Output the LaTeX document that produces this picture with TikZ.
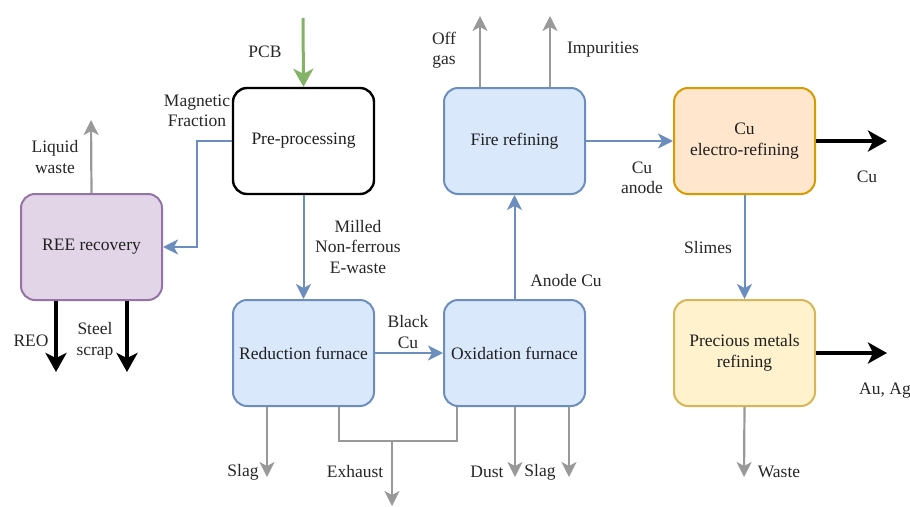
\documentclass[tikz,border=0pt]{standalone}
\usepackage{fontspec}
\setmainfont{Liberation Serif}
\usetikzlibrary{arrows.meta}
\definecolor{bluefill}{HTML}{DAE8FC}
\definecolor{blueline}{HTML}{6C8EBF}
\definecolor{purpfill}{HTML}{E1D5E7}
\definecolor{purpline}{HTML}{9673A6}
\definecolor{orfill}{HTML}{FFE6CC}
\definecolor{orline}{HTML}{D79B00}
\definecolor{yelfill}{HTML}{FFF2CC}
\definecolor{yelline}{HTML}{D6B656}
\definecolor{greenline}{HTML}{82B366}
\definecolor{grayline}{HTML}{999999}
\begin{document}
\begin{tikzpicture}[x=1pt,y=-1pt,
  font=\fontsize{17.5}{20.5}\selectfont,
  box/.style={rounded corners=14pt, minimum width=141pt, minimum height=106pt, line width=2pt, align=center, inner sep=2pt, text=black!88},
  bluebox/.style={box, draw=blueline, fill=bluefill},
  lbl/.style={align=center, inner sep=0pt, text=black!85},
  flow/.style={draw=blueline, line width=2pt, -{Stealth[length=15pt, width=15pt, inset=4pt]}},
  waste/.style={draw=grayline, line width=2.2pt, -{Stealth[length=15pt, width=15pt, inset=4pt]}},
  product/.style={draw=black, line width=4pt, -{Stealth[length=19pt, width=21pt, inset=5pt]}},
  feed/.style={draw=greenline, line width=3pt, -{Stealth[length=18pt, width=20pt, inset=5pt]}}]
\useasboundingbox (0,0) rectangle (910,506);

% process units
\node[box, draw=black, fill=white, line width=2.4pt] (pre) at (303.5,141) {Pre-processing};
\node[box, draw=purpline, fill=purpfill] (ree) at (91.5,247) {REE recovery};
\node[bluebox] (fire) at (514.5,141) {Fire refining};
\node[box, draw=orline, fill=orfill] (cuer) at (744.5,141) {Cu\\electro-refining};
\node[bluebox] (red) at (303.5,353) {Reduction furnace};
\node[bluebox] (oxi) at (514.5,353) {Oxidation furnace};
\node[box, draw=yelline, fill=yelfill] (pmr) at (744.5,353) {Precious metals\\refining};

% free ends of the streams
\coordinate (pcbin) at (303,18);
\coordinate (liq) at (91,120);
\coordinate (reo) at (56,372);
\coordinate (steel) at (127,372);
\coordinate (offg) at (480,16);
\coordinate (imp) at (550,16);
\coordinate (cuout) at (887,141);
\coordinate (auag) at (887,353);
\coordinate (wst) at (744,477);
\coordinate (slag1) at (267,477);
\coordinate (exh) at (392,506);
\coordinate (dust) at (515,477);
\coordinate (slag2) at (569,477);

% main copper route
\draw[feed] (pcbin) -- (pre.north);
\draw[flow] (pre.west) -- ++(-35,0) |- (ree.east);
\draw[flow] (pre.south) -- (red.north);
\draw[flow] (red.east) -- (oxi.west);
\draw[flow] (oxi.north) -- (fire.south);
\draw[flow] (fire.east) -- (cuer.west);
\draw[flow] (cuer.south) -- (pmr.north);

% products
\draw[product] (ree.south -| reo) -- (reo);
\draw[product] (ree.south -| steel) -- (steel);
\draw[product] (cuer.east) -- (cuout);
\draw[product] (pmr.east) -- (auag);

% residues and emissions
\draw[waste] (ree.north) -- (liq);
\draw[waste] (fire.north -| offg) -- (offg);
\draw[waste] (fire.north -| imp) -- (imp);
\draw[waste] (pmr.south) -- (wst);
\draw[waste] (red.south -| slag1) -- (slag1);
\draw[waste] (oxi.south -| dust) -- (dust);
\draw[waste] (oxi.south -| slag2) -- (slag2);
\draw[draw=grayline, line width=2.2pt] (red.south -| 339,0) -- (339,441) -- (457,441) -- (oxi.south -| 457,0);
\draw[waste] (392,441) -- (exh);

% stream labels
\node[lbl] (lpcb) at (265,52) {PCB};
\node[lbl] (lmag) at (197,111) {Magnetic\\Fraction};
\node[lbl] (lliq) at (55,157) {Liquid\\waste};
\node[lbl] (lreo) at (31,341) {REO};
\node[lbl] (lsteel) at (95,341) {Steel\\scrap};
\node[lbl] (lmill) at (358,247) {Milled\\Non-ferrous\\E-waste};
\node[lbl] (lblack) at (408,332) {Black\\Cu};
\node[lbl] (lanode) at (566,281) {Anode Cu};
\node[lbl] (loff) at (444,50) {Off\\gas};
\node[lbl] (limp) at (603,50) {Impurities};
\node[lbl] (lcuan) at (642,178) {Cu\\anode};
\node[lbl] (lcu) at (867,177) {Cu};
\node[lbl] (lslime) at (708,248) {Slimes};
\node[lbl] (lauag) at (885,391) {Au, Ag};
\node[lbl] (lwaste) at (779,472) {Waste};
\node[lbl] (lslag1) at (243,472) {Slag};
\node[lbl] (lexh) at (355,472) {Exhaust};
\node[lbl] (ldust) at (487,472) {Dust};
\node[lbl] (lslag2) at (540,472) {Slag};
\end{tikzpicture}
\end{document}
